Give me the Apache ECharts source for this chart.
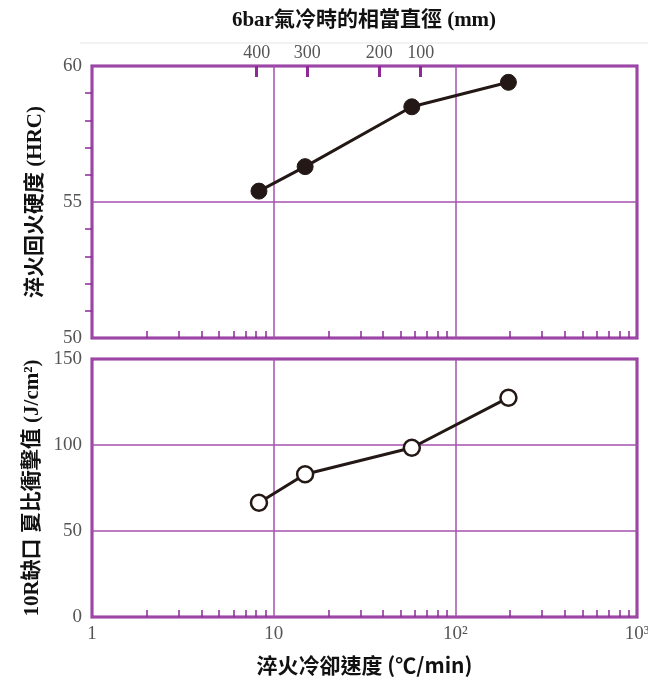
<!DOCTYPE html>
<html><head><meta charset="utf-8">
<script src="https://cdn.jsdelivr.net/npm/echarts@6/dist/echarts.min.js"></script>
<style>html,body{margin:0;padding:0;background:#fff}#c{width:648px;height:677px}</style>
</head><body><div id="c"></div>
<script>
// cooling rate (°C/min) for each point
const rates = [8.3, 14.9, 57.6, 196];
// quench & temper hardness (HRC)
const hardness = [55.4, 56.3, 58.5, 59.4];
// 10R notch Charpy impact value (J/cm2)
const impact = [66.4, 83, 98.4, 127.5];
// secondary top axis: equivalent diameter (mm) and the cooling rate where it sits
const diamLabels = ['400', '300', '200', '100'];
const diamRates = [8.07, 15.3, 38.1, 64.5];
// minor log ticks
const minorRates = [2,3,4,5,6,7,8,9,20,30,40,50,60,70,80,90,200,300,400,500,600,700,800,900];
const xTickLabels = {1: '1', 10: '10', 100: '10²', 1000: '10³'};

const PURPLE = '#8c2a96';
const GRID_PURPLE = '#a550ae';
const LABEL = '#555555';
const SERIF = '"Liberation Serif", "DejaVu Serif", serif';
const CJK = '"Liberation Serif", "Noto Sans CJK TC", serif';

const chart = echarts.init(document.getElementById('c'), null, {renderer: 'canvas'});

const baseX = {
  type: 'log', logBase: 10, min: 1, max: 1000,
  axisLine: {show: false},
  splitLine: {show: true, lineStyle: {color: GRID_PURPLE, width: 1.5}},
  axisTick: {show: false}, minorTick: {show: false}, minorSplitLine: {show: false}
};

chart.setOption({
  animation: false,
  graphic: [
    {type: 'line', shape: {x1: 80, y1: 43, x2: 648, y2: 43}, style: {stroke: '#e6e6e6', lineWidth: 1}},
    {type: 'text', x: 364, y: 21, style: {text: '6bar氣冷時的相當直徑 (mm)', font: 'bold 21px ' + CJK, fill: '#111', align: 'center', verticalAlign: 'middle'}}
  ],
  grid: [
    {left: 92, top: 66, width: 545, height: 272, show: true, borderColor: PURPLE, borderWidth: 3, backgroundColor: 'transparent', outerBoundsMode: 'none', containLabel: false},
    {left: 92, top: 359, width: 545, height: 258, show: true, borderColor: PURPLE, borderWidth: 3, backgroundColor: 'transparent', outerBoundsMode: 'none', containLabel: false}
  ],
  xAxis: [
    Object.assign({}, baseX, {gridIndex: 0, position: 'bottom', axisLabel: {show: false}}),
    Object.assign({}, baseX, {gridIndex: 1, position: 'bottom',
      name: '淬火冷卻速度 (℃/min)', nameLocation: 'middle', nameGap: 38,
      nameTextStyle: {fontFamily: '"Noto Sans CJK TC", sans-serif', fontWeight: 'bold', fontSize: 21, color: '#111'},
      axisLabel: {show: true, fontFamily: SERIF, fontSize: 19, color: LABEL, margin: 8,
        formatter: v => xTickLabels[Math.round(v)] || ''}}),
    // minor ticks, top panel bottom edge
    {type: 'log', logBase: 10, min: 1, max: 1000, gridIndex: 0, position: 'bottom',
      axisLine: {show: false}, splitLine: {show: false}, axisLabel: {show: false},
      axisTick: {show: true, inside: true, length: 7, customValues: minorRates, lineStyle: {color: PURPLE, width: 1.5}}},
    // minor ticks, bottom panel bottom edge
    {type: 'log', logBase: 10, min: 1, max: 1000, gridIndex: 1, position: 'bottom',
      axisLine: {show: false}, splitLine: {show: false}, axisLabel: {show: false},
      axisTick: {show: true, inside: true, length: 7, customValues: minorRates, lineStyle: {color: PURPLE, width: 1.5}}},
    // secondary top axis (equivalent diameter)
    {type: 'log', logBase: 10, min: 1, max: 1000, gridIndex: 0, position: 'top',
      axisLine: {show: false}, splitLine: {show: false},
      axisTick: {show: true, inside: true, length: 11, customValues: diamRates, lineStyle: {color: PURPLE, width: 3}},
      axisLabel: {show: true, customValues: diamRates, fontFamily: SERIF, fontSize: 18, color: LABEL, margin: 4,
        formatter: v => { const i = diamRates.findIndex(r => Math.abs(r - v) < 1e-6); return i >= 0 ? diamLabels[i] : ''; }}}
  ],
  yAxis: [
    {type: 'value', gridIndex: 0, min: 50, max: 60, interval: 5,
      name: '淬火回火硬度 (HRC)', nameLocation: 'middle', nameGap: 46,
      nameTextStyle: {fontFamily: CJK, fontWeight: 'bold', fontSize: 21, color: '#111'},
      axisLine: {show: false},
      axisTick: {show: false},
      minorTick: {show: true, splitNumber: 5, length: 7, lineStyle: {color: PURPLE, width: 1.5}},
      axisLabel: {fontFamily: SERIF, fontSize: 19, color: LABEL, margin: 10},
      splitLine: {show: true, lineStyle: {color: GRID_PURPLE, width: 1.5}}},
    {type: 'value', gridIndex: 1, min: 0, max: 150, interval: 50,
      name: '10R缺口 夏比衝擊值 (J/cm²)', nameLocation: 'middle', nameGap: 46,
      nameTextStyle: {fontFamily: CJK, fontWeight: 'bold', fontSize: 21, color: '#111'},
      axisLine: {show: false}, axisTick: {show: false},
      axisLabel: {fontFamily: SERIF, fontSize: 19, color: LABEL, margin: 10},
      splitLine: {show: true, lineStyle: {color: GRID_PURPLE, width: 1.5}}}
  ],
  series: [
    {type: 'line', xAxisIndex: 0, yAxisIndex: 0, data: rates.map((r, i) => [r, hardness[i]]),
      symbol: 'circle', symbolSize: 16, lineStyle: {color: '#231815', width: 3},
      itemStyle: {color: '#231815', borderColor: '#231815', borderWidth: 1}, z: 5},
    {type: 'line', xAxisIndex: 1, yAxisIndex: 1, data: rates.map((r, i) => [r, impact[i]]),
      symbol: 'circle', symbolSize: 16, lineStyle: {color: '#231815', width: 3},
      itemStyle: {color: '#ffffff', borderColor: '#231815', borderWidth: 2.5}, z: 5}
  ]
});
</script></body></html>
